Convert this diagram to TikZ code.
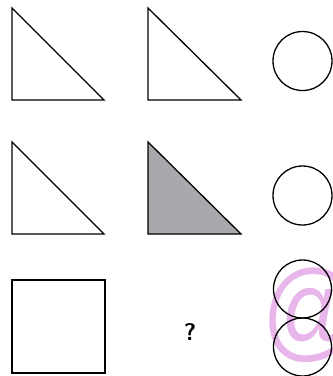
\documentclass[tikz,border=0pt]{standalone}
\usepackage{fontspec}
\usepackage{tikz}
\usetikzlibrary{positioning}
\newfontfamily\wmkfont{Liberation Sans}
\definecolor{qzgrey}{HTML}{A7A9AC}
\definecolor{qzpink}{HTML}{E8B6EA}
\tikzset{
  fig/.style  = {draw=black, line width=1.3pt, line join=miter},
  figg/.style = {fig, fill=qzgrey},
  qmk/.style  = {font=\fontsize{24}{24}\selectfont\sffamily\bfseries, inner sep=0pt},
  wmk/.style  = {font=\fontsize{110}{110}\selectfont\wmkfont, text=qzpink,
                 inner sep=0pt, xscale=0.85},
}
\begin{document}
\begin{tikzpicture}[x=1pt,y=-1pt]
  \clip (0,0) rectangle (333,376);
  \fill[white] (0,0) rectangle (333,376);

  % --- watermark (behind)
  \node[wmk, anchor=west] (at) at (262,315) {@};

  % --- row 1
  \draw[fig] (12,8) -- (12,100) -- (104,100) -- cycle;
  \draw[fig] (148,8) -- (148,100) -- (241,100) -- cycle;
  \draw[fig] (302.5,61) circle (29.5);

  % --- row 2
  \draw[fig] (12,142) -- (12,234) -- (104,234) -- cycle;
  \draw[figg] (148,142) -- (148,234) -- (241,234) -- cycle;
  \draw[fig] (302.5,195.5) circle (29.5);

  % --- row 3
  \draw[fig] (12,280) rectangle (105,373);
  \node[qmk] (qm) at (190,332) {?};
  \draw[fig] (302.5,289) circle (29);
  \draw[fig] (302.5,347) circle (29);
\end{tikzpicture}
\end{document}
